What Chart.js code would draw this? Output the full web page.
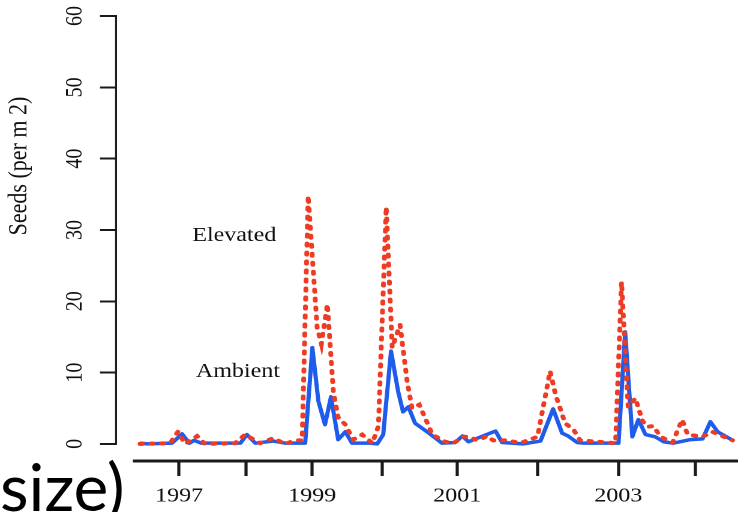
<!DOCTYPE html>
<html>
<head>
<meta charset="utf-8">
<script src="https://cdn.jsdelivr.net/npm/chart.js@4"></script>
<style>
  html, body { margin: 0; padding: 0; background: #fff; }
  #wrap { position: relative; width: 740px; height: 512px; overflow: hidden; background: #fff; }
  #plot { position: absolute; left: 0; top: 0; transform: scaleX(1.2); transform-origin: 0 0; }
  #note { position: absolute; left: 0; top: 453px; font-family: Lato, "Open Sans", sans-serif;
          font-size: 66px; line-height: 66px; color: #000; white-space: nowrap; }
</style>
</head>
<body>
<div id="wrap">
  <canvas id="plot" width="617" height="512"></canvas>
  <div id="note">size)</div>
</div>
<script>
// Sampling position along the time axis (sample index units) and seed density (per m²)
const ambientTime = [4.0, 5.2, 9.3, 11.0, 12.2, 13.0, 14.2, 20.7, 21.8, 23.2, 26.2, 28.2, 31.5,
  32.7, 33.7, 34.8, 35.8, 37.0, 38.2, 39.3, 42.3, 43.5, 44.5, 45.8, 47.0, 47.8, 48.7, 49.8, 51.8,
  54.3, 56.5, 57.7, 58.7, 60.2, 63.2, 64.3, 67.8, 70.7, 72.8, 74.3, 75.3, 76.8, 77.8, 83.7, 84.8,
  86.0, 87.0, 88.2, 89.8, 91.2, 92.8, 95.7, 97.7, 99.0, 100.2, 102.7];
const ambientSeeds = [0.1, 0.0, 0.1, 1.4, 0.1, 0.5, 0.1, 0.1, 1.3, 0.1, 0.4, 0.1, 0.1,
  13.5, 6.0, 2.7, 6.6, 0.6, 1.7, 0.1, 0.1, 0.0, 1.3, 13.0, 7.3, 4.5, 5.2, 2.9, 1.7,
  0.1, 0.2, 1.1, 0.3, 0.8, 1.8, 0.2, 0.0, 0.4, 4.9, 1.5, 1.1, 0.2, 0.1, 0.1, 15.7,
  1.0, 3.4, 1.3, 1.0, 0.3, 0.1, 0.6, 0.7, 3.1, 1.7, 0.5];

const elevatedTime = [4.0, 9.0, 10.3, 11.5, 13.5, 14.8, 19.8, 21.5, 24.0, 26.2, 28.2, 29.8, 31.0,
  32.0, 33.5, 34.2, 35.2, 36.2, 37.0, 38.2, 39.5, 41.0, 42.7, 43.7, 45.0, 46.0, 47.3, 48.5, 49.3,
  50.5, 52.7, 54.8, 56.2, 57.8, 58.7, 60.3, 61.8, 62.8, 65.2, 67.3, 70.2, 72.3, 73.2, 74.8, 76.2,
  77.3, 83.2, 84.2, 85.3, 86.5, 87.7, 88.5, 89.5, 90.7, 92.7, 94.3, 95.2, 97.7, 99.3, 101.8, 102.7];
const elevatedSeeds = [0.0, 0.1, 1.7, 0.0, 1.1, 0.0, 0.1, 1.3, 0.1, 0.8, 0.0, 0.5, 0.5,
  34.8, 16.3, 14.0, 19.6, 7.3, 3.7, 2.7, 0.6, 1.3, 0.1, 2.5, 33.2, 13.5, 16.7, 8.7, 5.0,
  5.5, 1.3, 0.3, 0.1, 1.0, 1.0, 0.5, 1.1, 0.5, 0.5, 0.1, 1.0, 10.2, 6.9, 2.9, 2.0,
  0.5, 0.1, 22.7, 5.2, 6.4, 3.2, 2.4, 2.5, 1.0, 0.2, 3.4, 1.3, 1.0, 1.7, 0.8, 0.5];

// Year boundaries along the time axis; only every other year is labelled
const yearTickPos = [10.5, 21.67, 32.67, 44.33, 56.83, 70.17, 83.67, 96.5];
const yearTickLabels = ['1997', '', '1999', '', '2001', '', '2003', ''];
const seedTicks = [0, 10, 20, 30, 40, 50, 60];
const timeAxisSpan = [2.8, 103.6];

// In-plot series names, placed in data coordinates
const seriesNotes = [
  { text: 'Elevated', x: 19.7, y: 29.2 },
  { text: 'Ambient',  x: 20.3, y: 10.1 }
];

const serif = '"Liberation Serif", "Times New Roman", serif';

const toPoints = (xs, ys) => xs.map((t, i) => ({ x: t, y: ys[i] }));

// Detached axis lines, series names and the y-axis title
const axisFrame = {
  id: 'axisFrame',
  afterDraw(chart) {
    const { ctx, chartArea, scales: { x, y } } = chart;
    ctx.save();
    ctx.strokeStyle = '#1a1a1a';
    ctx.lineCap = 'butt';

    ctx.lineWidth = 1.6;
    ctx.beginPath();
    ctx.moveTo(chartArea.left, y.getPixelForValue(seedTicks[seedTicks.length - 1]) - 1);
    ctx.lineTo(chartArea.left, y.getPixelForValue(seedTicks[0]) + 1);
    ctx.stroke();

    ctx.lineWidth = 3;
    ctx.beginPath();
    ctx.moveTo(x.getPixelForValue(timeAxisSpan[0]), chartArea.bottom);
    ctx.lineTo(x.getPixelForValue(timeAxisSpan[1]), chartArea.bottom);
    ctx.stroke();

    ctx.fillStyle = '#111';
    ctx.font = '20px ' + serif;
    ctx.textAlign = 'center';
    ctx.textBaseline = 'middle';
    seriesNotes.forEach(n => ctx.fillText(n.text, x.getPixelForValue(n.x), y.getPixelForValue(n.y)));

    ctx.font = '22px ' + serif;
    ctx.translate(16.2, 166);
    ctx.rotate(-Math.PI / 2);
    ctx.fillText('Seeds (per m 2)', 0, 0);
    ctx.restore();
  }
};

new Chart(document.getElementById('plot'), {
  type: 'line',
  data: {
    datasets: [
      {
        label: 'Elevated',
        data: toPoints(elevatedTime, elevatedSeeds),
        borderColor: '#ee3b24',
        borderWidth: 4,
        borderDash: [2, 7],
        borderCapStyle: 'round',
        pointRadius: 0,
        tension: 0,
        fill: false
      },
      {
        label: 'Ambient',
        data: toPoints(ambientTime, ambientSeeds),
        borderColor: '#1f5ceb',
        borderWidth: 3.5,
        borderJoinStyle: 'round',
        pointRadius: 0,
        tension: 0,
        fill: false
      }
    ]
  },
  options: {
    responsive: false,
    animation: false,
    devicePixelRatio: 2,
    layout: { padding: { top: 16, left: 0, right: 0, bottom: 0 } },
    plugins: { legend: { display: false }, tooltip: { enabled: false } },
    scales: {
      x: {
        type: 'linear',
        min: 0,
        max: 104,
        afterBuildTicks: s => { s.ticks = yearTickPos.map(v => ({ value: v })); },
        afterFit: s => { s.height = 51; s.paddingLeft = 0; s.paddingRight = 0; },
        grid: { drawOnChartArea: false, drawTicks: true, tickLength: 15, tickWidth: 2.6, tickColor: '#1a1a1a' },
        border: { display: false },
        ticks: {
          autoSkip: false, minRotation: 0, maxRotation: 0, padding: 8, color: '#111',
          font: { family: serif, size: 20 },
          callback: (v, i) => yearTickLabels[i]
        }
      },
      y: {
        type: 'linear',
        min: -2.4,
        max: 60,
        afterBuildTicks: s => { s.ticks = seedTicks.map(v => ({ value: v })); },
        afterFit: s => { s.width = 96.7; s.paddingTop = 0; s.paddingBottom = 0; },
        grid: { drawOnChartArea: false, drawTicks: true, tickLength: 13.4, tickWidth: 2, tickColor: '#1a1a1a' },
        border: { display: false },
        ticks: {
          minRotation: 90, maxRotation: 90, crossAlign: 'center', padding: 10.5, color: '#111',
          font: { family: serif, size: 20 }
        }
      }
    }
  },
  plugins: [axisFrame]
});
</script>
</body>
</html>
